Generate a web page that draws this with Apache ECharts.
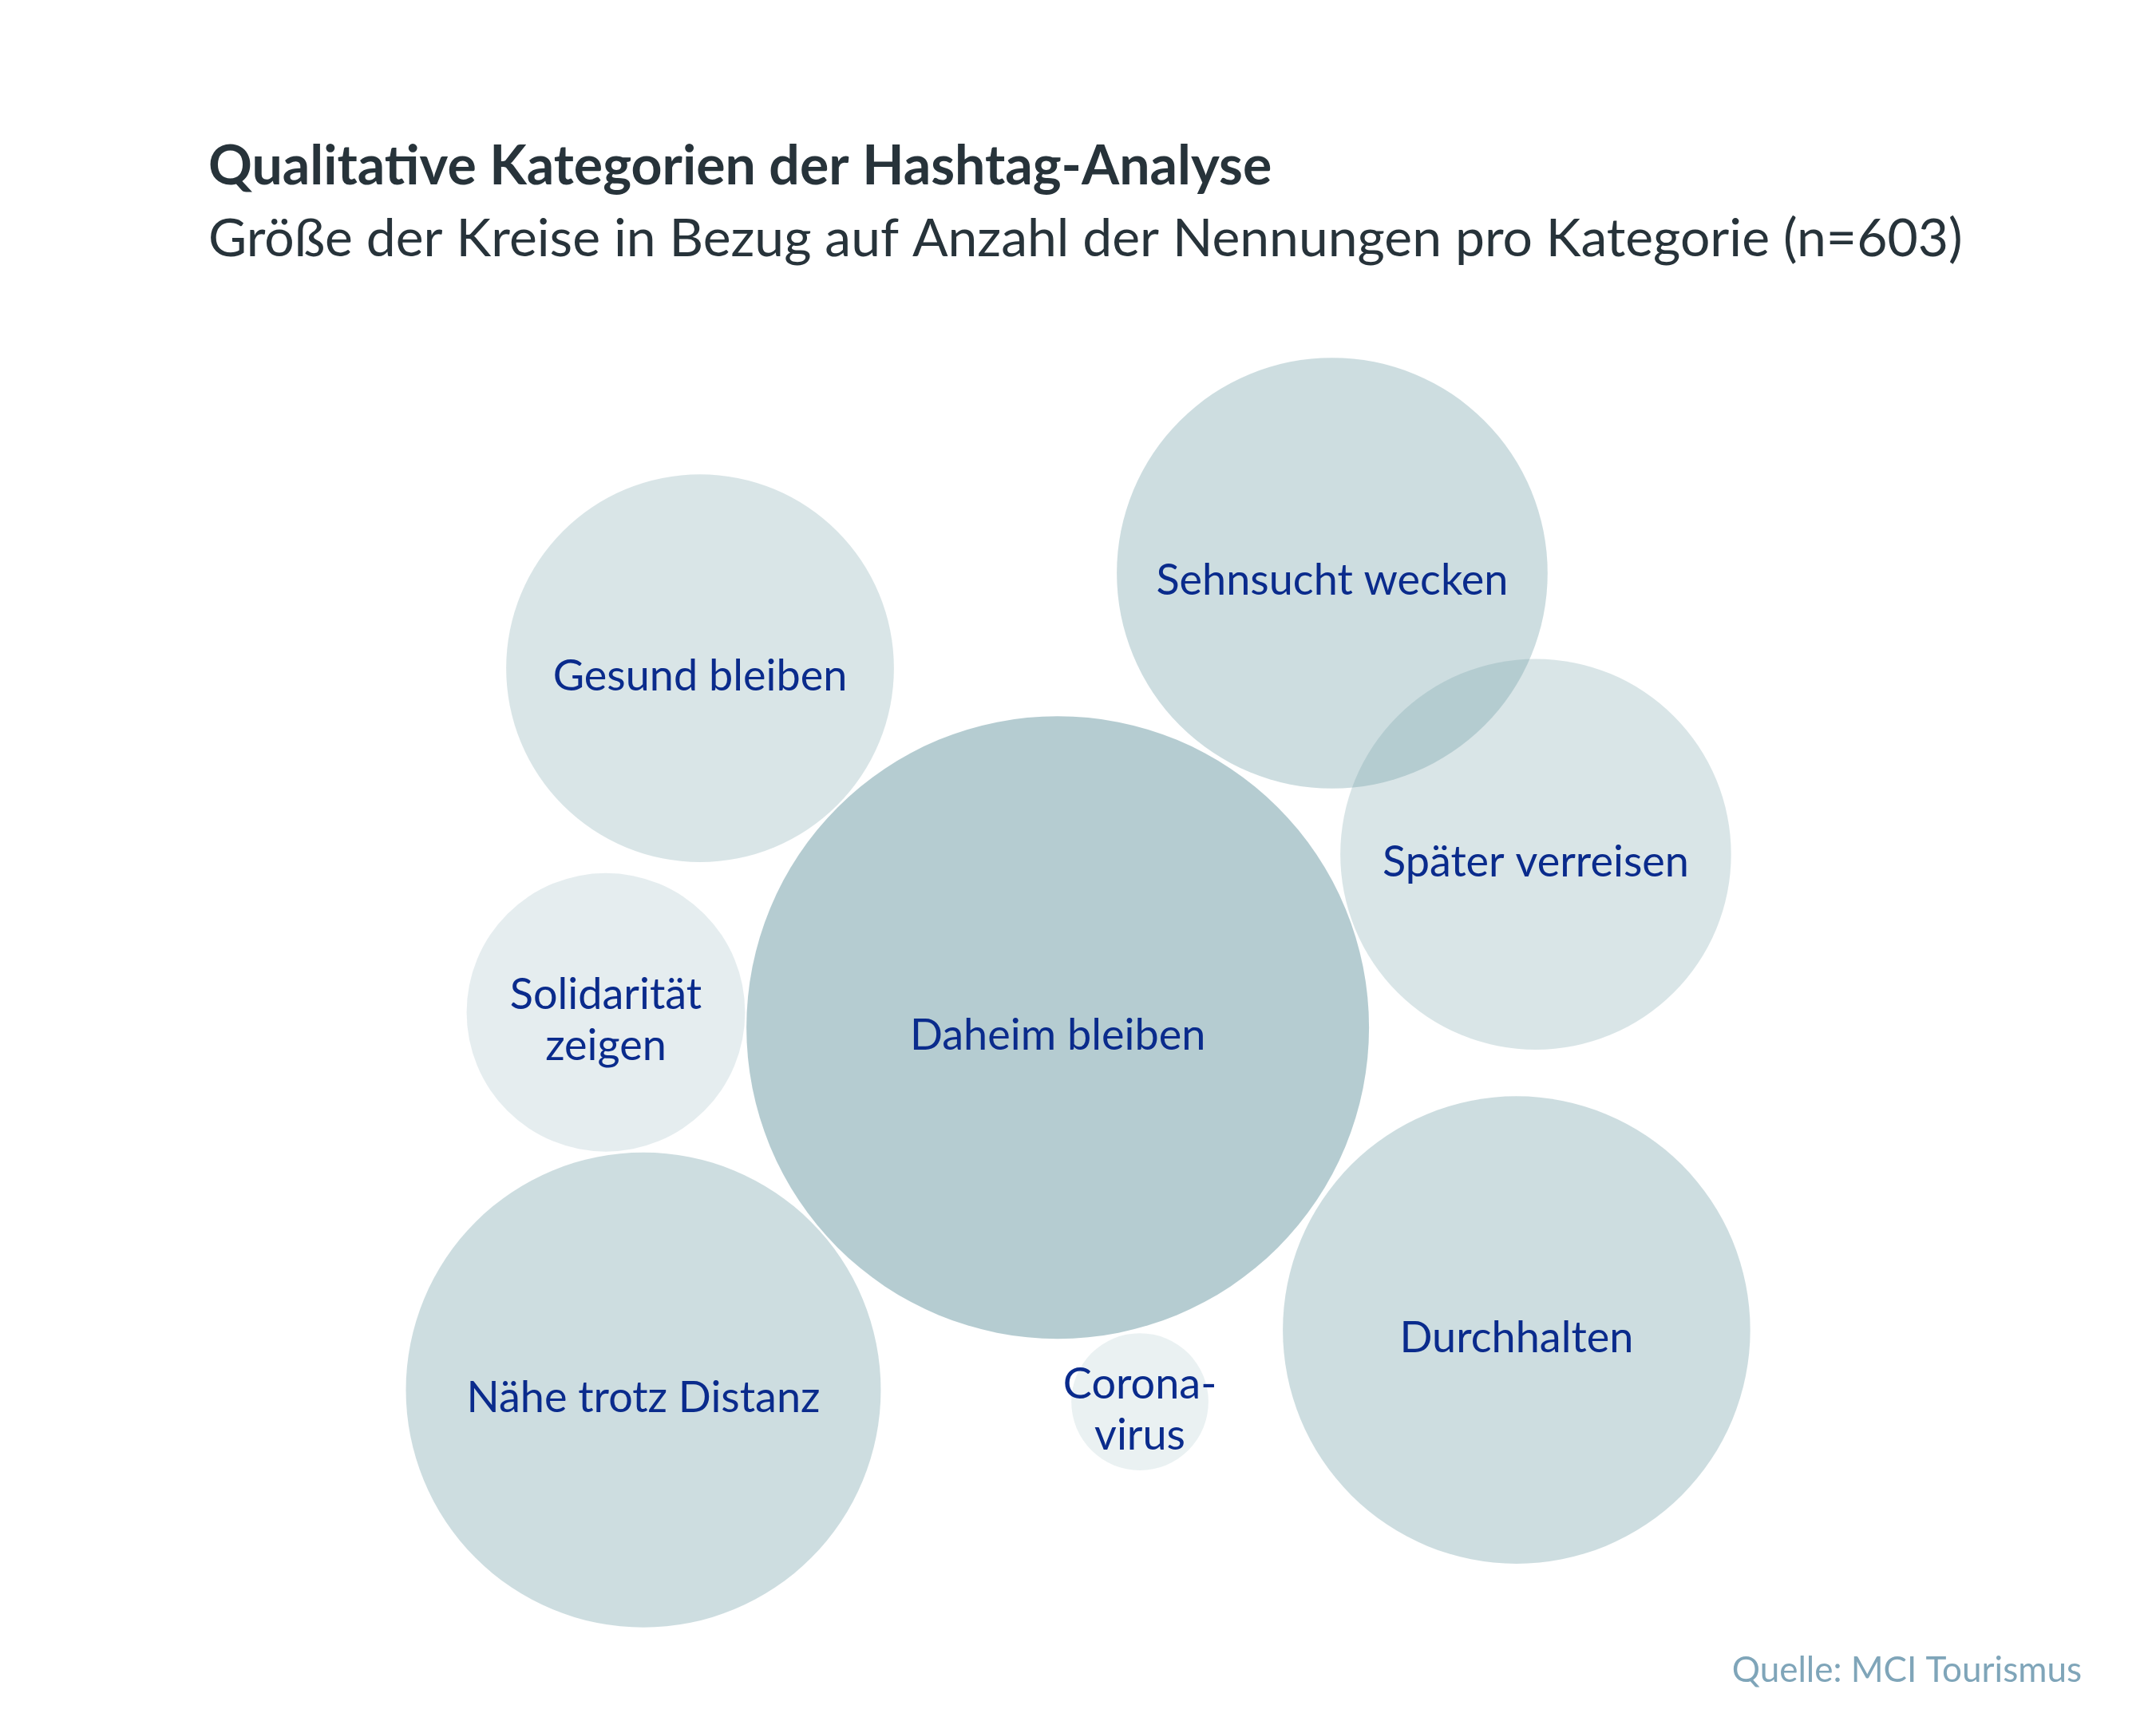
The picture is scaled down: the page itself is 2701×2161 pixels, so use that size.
<!DOCTYPE html>
<html>
<head>
<meta charset="utf-8">
<script src="https://cdn.jsdelivr.net/npm/echarts@6/dist/echarts.min.js"></script>
<style>
  html, body { margin: 0; padding: 0; background: #ffffff; }
  #chart { width: 2701px; height: 2161px; }
</style>
</head>
<body>
<div id="chart"></div>
<script>
// Categories (hashtag analysis), counts (n = 603), bubble layout units
const categories = ['Daheim bleiben', 'Sehnsucht wecken', 'Gesund bleiben', 'Später verreisen',
  'Solidarität\nzeigen', 'Nähe trotz Distanz', 'Durchhalten', 'Corona-\nvirus'];
const counts = [165, 79, 64, 65, 33, 96, 93, 8];
const layoutX = [49.06, 61.79, 32.47, 71.23, 28.10, 29.84, 70.34, 52.87];
const layoutY = [47.65, 26.58, 30.99, 39.62, 46.95, 64.46, 61.68, 65.01];

const titleText = 'Qualitative Kategorien der Hashtag-Analyse';
const subtitleText = 'Größe der Kreise in Bezug auf Anzahl der Nennungen pro Kategorie (n=603)';
const sourceText = 'Quelle: MCI Tourismus';

const FONT = 'Lato';
const SIZE_K = 60.72; // px diameter per sqrt(count)

const data = categories.map((c, i) => ({ name: c, value: [layoutX[i], layoutY[i], counts[i]] }));

const chart = echarts.init(document.getElementById('chart'), null, { renderer: 'canvas' });
chart.setOption({
  backgroundColor: '#ffffff',
  animation: false,
  title: [
    { text: titleText, left: 256, top: 170,
      textStyle: { fontFamily: FONT, fontWeight: 'bold', fontSize: 68, color: '#27333a' } },
    { text: subtitleText, left: 256, top: 262,
      textStyle: { fontFamily: FONT, fontWeight: 'normal', fontSize: 66, color: '#27333a' } },
    { text: sourceText, right: 88, top: 2066,
      textStyle: { fontFamily: FONT, fontWeight: 'normal', fontSize: 44, color: '#7fa5b9' } }
  ],
  grid: { left: 0, right: 0, top: 0, bottom: 0 },
  xAxis: { type: 'value', min: 0, max: 100, show: false },
  yAxis: { type: 'value', min: 0, max: 80, inverse: true, show: false },
  visualMap: {
    type: 'piecewise', show: false, dimension: 2, seriesIndex: 0,
    pieces: [
      { min: 120, color: 'rgba(116,160,168,0.535)' },
      { min: 70, max: 120, color: 'rgba(116,160,168,0.36)' },
      { min: 50, max: 70, color: 'rgba(116,160,168,0.27)' },
      { min: 20, max: 50, color: 'rgba(116,160,168,0.19)' },
      { max: 20, color: 'rgba(116,160,168,0.15)' }
    ]
  },
  series: [{
    type: 'scatter',
    data: data,
    symbol: 'circle',
    symbolSize: (val) => SIZE_K * Math.sqrt(val[2]),
    itemStyle: { opacity: 1 },
    label: {
      show: true, position: 'inside', formatter: '{b}',
      fontFamily: FONT, fontSize: 54, lineHeight: 64, color: '#0a2b8c', offset: [0, 10]
    },
    emphasis: { disabled: true }
  }]
});
</script>
</body>
</html>
